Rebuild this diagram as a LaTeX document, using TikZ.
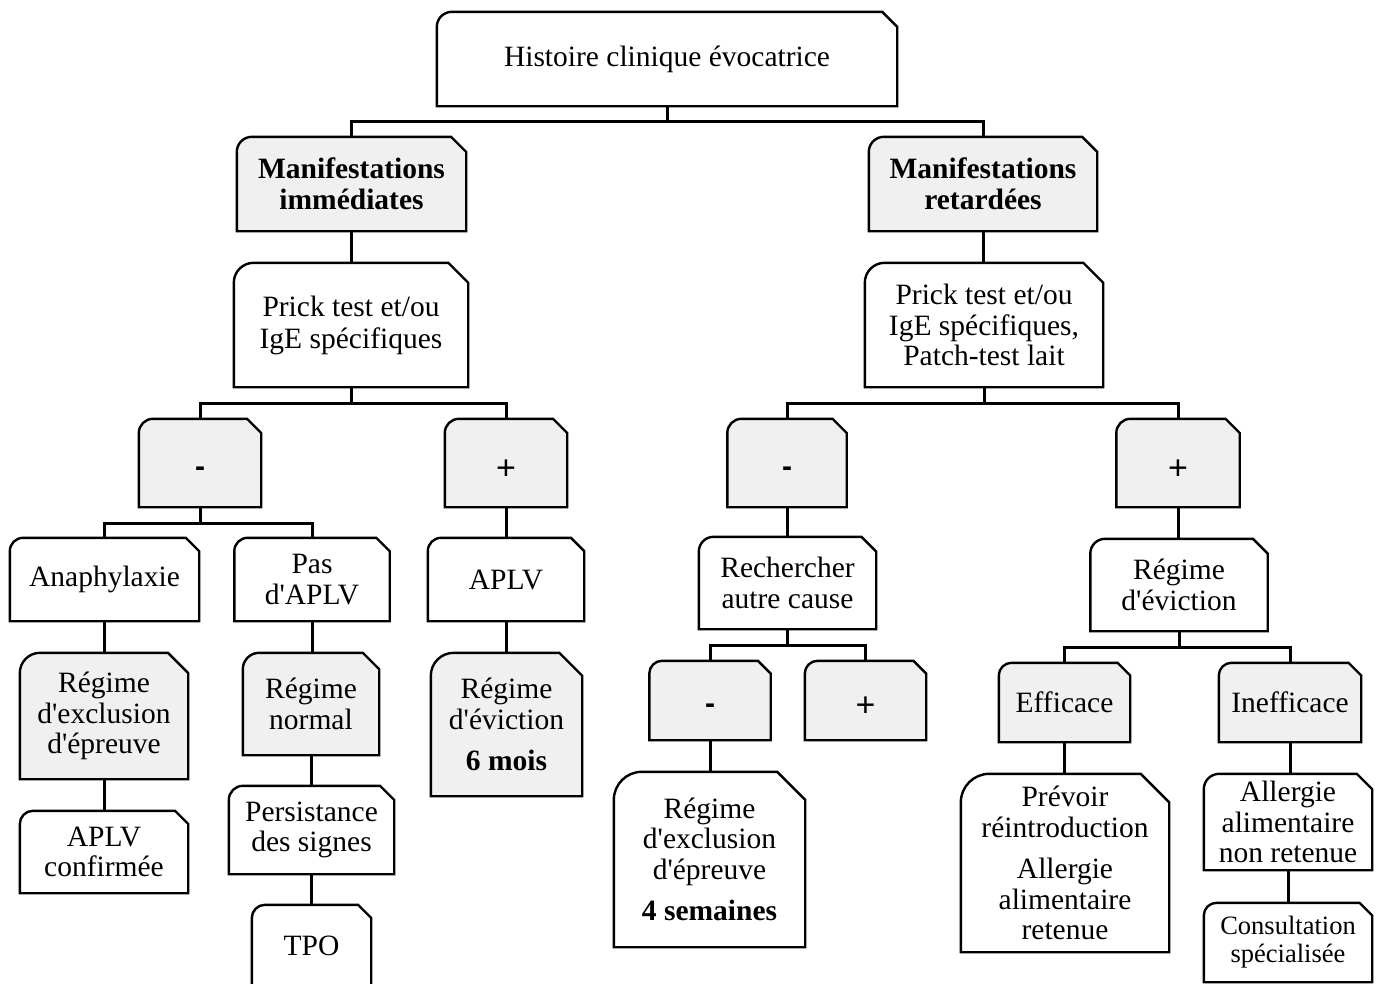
\documentclass[tikz,border=0pt]{standalone}
\usepackage{fontspec}
\setmainfont{Liberation Serif}[Ligatures=TeXOff]
\newfontfamily\sansf{Liberation Sans}
\usetikzlibrary{backgrounds,calc}
\definecolor{gf}{RGB}{240,240,240}
\tikzset{
  cb/.style={inner sep=0pt, align=center, font=\fontsize{29.5}{30.5}\selectfont},
  bcb/.style={cb, font=\fontsize{29.5}{31}\selectfont\bfseries},
  scb/.style={cb, font=\fontsize{26.5}{28}\selectfont},
  sg/.style={cb, font=\fontsize{34}{34}\selectfont\sansf, text height=32pt, text depth=0pt},
  bsg/.style={cb, font=\fontsize{30}{30}\selectfont\sansf\bfseries, text height=26pt, text depth=0pt},
  link/.style={line width=3pt},
}
\newcommand\shp[2]{\path[draw=black,line width=2.4pt,line join=miter,fill=#2]
  let \p1=(#1.north east), \p2=(#1.south west), \n1={0.16*(\y1-\y2)} in
  (\p2) -- (\x2,\y1-\n1) arc[start angle=180,end angle=90,radius=\n1]
  -- (\x1-\n1,\y1) -- (\x1,\y1-\n1) -- (\x1,\y2) -- cycle;}
\begin{document}
\begin{tikzpicture}[x=1pt,y=-1pt]
\useasboundingbox (0,0) rectangle (1376,983);
% nodes
\node[cb,minimum width=460,minimum height=94] (hist) at (667,59) {Histoire clinique évocatrice};
\node[bcb,minimum width=229,minimum height=94] (mi) at (351.5,184) {Manifestations\\immédiates};
\node[bcb,minimum width=228,minimum height=94] (mr) at (983,184) {Manifestations\\retardées};
\node[cb,minimum width=234,minimum height=124,font=\fontsize{29.5}{32}\selectfont] (pl) at (351,325) {Prick test et/ou\\IgE spécifiques};
\node[cb,minimum width=238,minimum height=124] (pr) at (984,325) {Prick test et/ou\\IgE spécifiques,\\Patch-test lait};
\node[bsg,minimum width=122,minimum height=88] (mL) at (200,463) {-};
\node[sg,minimum width=122,minimum height=88] (pL) at (506,463) {+};
\node[bsg,minimum width=119,minimum height=88] (mR) at (787,463) {-};
\node[sg,minimum width=123,minimum height=88] (pR) at (1178,463) {+};
\node[cb,minimum width=189,minimum height=83] (ana) at (104.5,579.5) {Anaphylaxie};
\node[cb,minimum width=155,minimum height=83] (pas) at (312,579.5) {Pas\\d'APLV};
\node[cb,minimum width=156,minimum height=83] (aplv) at (506,579.5) {APLV};
\node[cb,minimum width=177,minimum height=92] (rech) at (787.5,583) {Rechercher\\autre cause};
\node[cb,minimum width=177,minimum height=92] (rev) at (1179,585) {Régime\\d'éviction};
\node[cb,minimum width=168,minimum height=126] (rex) at (104,716) {Régime\\d'exclusion\\d'épreuve};
\node[cb,minimum width=136,minimum height=102] (rn) at (311,704) {Régime\\normal};
\node[cb,minimum width=151,minimum height=143] (r6) at (506.5,724.5) {Régime\\d'éviction\\[11pt]\textbf{6 mois}};
\node[bsg,minimum width=121,minimum height=79] (m2) at (710,700.5) {-};
\node[sg,minimum width=121,minimum height=79] (p2) at (865.5,700.5) {+};
\node[cb,minimum width=131,minimum height=79] (eff) at (1064.5,702.5) {Efficace};
\node[cb,minimum width=142,minimum height=79] (ineff) at (1290,702.5) {Inefficace};
\node[cb,minimum width=168,minimum height=82] (aplvc) at (104,852) {APLV\\confirmée};
\node[cb,minimum width=165,minimum height=88] (pers) at (311.5,830) {Persistance\\des signes};
\node[cb,minimum width=119,minimum height=82] (tpo) at (311.5,946) {TPO};
\node[cb,minimum width=191,minimum height=175] (r4) at (709.5,859.5) {Régime\\d'exclusion\\d'épreuve\\[11pt]\textbf{4 semaines}};
\node[cb,minimum width=208,minimum height=178] (prev) at (1065,863) {Prévoir\\réintroduction\\[11pt]Allergie\\alimentaire\\retenue};
\node[cb,minimum width=168,minimum height=96] (anr) at (1288,822) {Allergie\\alimentaire\\non retenue};
\node[scb,minimum width=168,minimum height=79] (cons) at (1288,942.5) {Consultation\\spécialisée};
% bus coordinates
\coordinate (b1) at (0,121);
\coordinate (b2) at (0,403);
\coordinate (b3) at (0,523);
\coordinate (b4) at (0,645);
\coordinate (b5) at (0,647);
\begin{scope}[on background layer]
% connectors
\draw[link] (hist.south) -- (hist.south |- b1);
\draw[link] (mi.north) -- (mi.north |- b1) -- (mr.north |- b1) -- (mr.north);
\draw[link] (mi.south) -- (mi.south |- pl.north);
\draw[link] (mr.south) -- (mr.south |- pr.north);
\draw[link] (pl.south) -- (pl.south |- b2);
\draw[link] (mL.north) -- (mL.north |- b2) -- (pL.north |- b2) -- (pL.north);
\draw[link] (pr.south) -- (pr.south |- b2);
\draw[link] (mR.north) -- (mR.north |- b2) -- (pR.north |- b2) -- (pR.north);
\draw[link] (mL.south) -- (mL.south |- b3);
\draw[link] (ana.north) -- (ana.north |- b3) -- (pas.north |- b3) -- (pas.north);
\draw[link] (pL.south) -- (pL.south |- aplv.north);
\draw[link] (mR.south) -- (mR.south |- rech.north);
\draw[link] (pR.south) -- (pR.south |- rev.north);
\draw[link] (ana.south) -- (ana.south |- rex.north);
\draw[link] (pas.south) -- (pas.south |- rn.north);
\draw[link] (aplv.south) -- (aplv.south |- r6.north);
\draw[link] (rech.south) -- (rech.south |- b4);
\draw[link] (m2.north) -- (m2.north |- b4) -- (p2.north |- b4) -- (p2.north);
\draw[link] (rev.south) -- (rev.south |- b5);
\draw[link] (eff.north) -- (eff.north |- b5) -- (ineff.north |- b5) -- (ineff.north);
\draw[link] (rex.south) -- (rex.south |- aplvc.north);
\draw[link] (rn.south) -- (rn.south |- pers.north);
\draw[link] (pers.south) -- (pers.south |- tpo.north);
\draw[link] (m2.south) -- (m2.south |- r4.north);
\draw[link] (eff.south) -- (eff.south |- prev.north);
\draw[link] (ineff.south) -- (ineff.south |- anr.north);
\draw[link] (anr.south) -- (anr.south |- cons.north);
% shapes
\shp{hist}{white}
\shp{mi}{gf}
\shp{mr}{gf}
\shp{pl}{white}
\shp{pr}{white}
\shp{mL}{gf}
\shp{pL}{gf}
\shp{mR}{gf}
\shp{pR}{gf}
\shp{ana}{white}
\shp{pas}{white}
\shp{aplv}{white}
\shp{rech}{white}
\shp{rev}{white}
\shp{rex}{gf}
\shp{rn}{gf}
\shp{r6}{gf}
\shp{m2}{gf}
\shp{p2}{gf}
\shp{eff}{gf}
\shp{ineff}{gf}
\shp{aplvc}{white}
\shp{pers}{white}
\shp{tpo}{white}
\shp{r4}{white}
\shp{prev}{white}
\shp{anr}{white}
\shp{cons}{white}
\end{scope}
\end{tikzpicture}
\end{document}
